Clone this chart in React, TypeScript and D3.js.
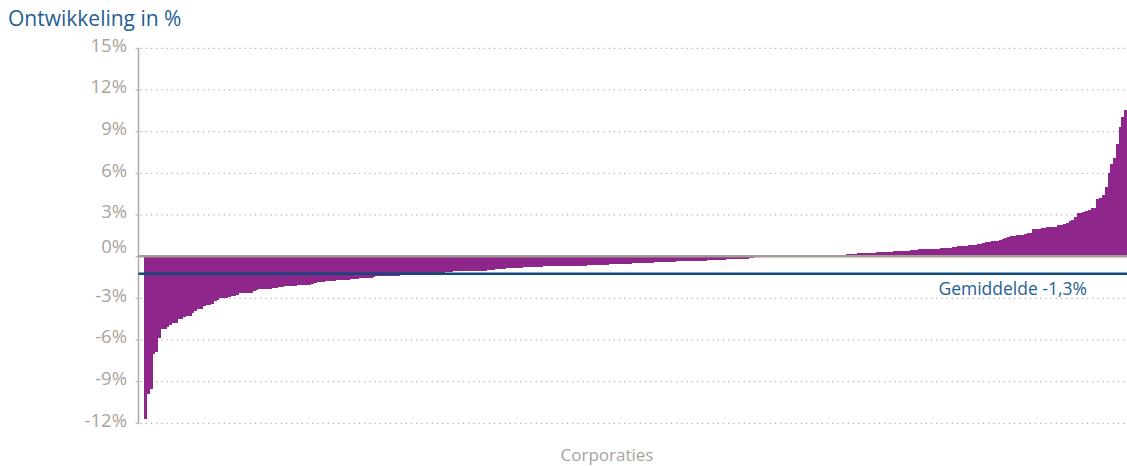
import React from "react";
import * as d3 from "d3";

const TITLE = "Ontwikkeling in %";
const X_LABEL = "Corporaties";
const MEAN_LABEL = "Gemiddelde -1,3%";
const MEAN_VALUE = -1.3;
const Y_TICKS = [15, 12, 9, 6, 3, 0, -3, -6, -9, -12];

// Change per corporation (%), sorted ascending
const negativeChanges = [
  -11.7, -9.9, -9.5, -7.0, -6.85, -5.85, -5.2, -5.2, -5.06, -4.9,
  -4.8, -4.75, -4.48, -4.48, -4.34, -4.24, -4.24, -4.06, -3.9, -3.76,
  -3.76, -3.55, -3.45, -3.45, -3.38, -3.23, -3.14, -3.0, -3.0, -3.0,
  -2.92, -2.83, -2.83, -2.73, -2.64, -2.64, -2.59, -2.59, -2.59, -2.49,
  -2.42, -2.35, -2.3, -2.3, -2.3, -2.3, -2.23, -2.23, -2.16, -2.16,
  -2.09, -2.09, -2.09, -2.09, -2.09, -2.01, -2.01, -2.01, -2.01, -2.01,
  -1.94, -1.87, -1.8, -1.8, -1.8, -1.73, -1.73, -1.73, -1.73, -1.65,
  -1.65, -1.65, -1.65, -1.65, -1.58, -1.58, -1.58, -1.51, -1.51, -1.51,
  -1.51, -1.51, -1.44, -1.37, -1.37, -1.37, -1.37, -1.37, -1.37, -1.37,
  -1.37, -1.37, -1.33, -1.32, -1.31, -1.3, -1.29, -1.28, -1.27, -1.26,
  -1.25, -1.24, -1.22, -1.21, -1.2, -1.18, -1.17, -1.15, -1.1, -1.1,
  -1.1, -1.03, -1.03, -1.03, -1.03, -1.03, -1.03, -1.03, -1.03, -1.03,
  -1.03, -1.03, -1.03, -0.96, -0.96, -0.96, -0.88, -0.88, -0.88, -0.88,
  -0.81, -0.81, -0.81, -0.81, -0.81, -0.81, -0.74, -0.74, -0.74, -0.74,
  -0.74, -0.74, -0.74, -0.67, -0.67, -0.67, -0.67, -0.67, -0.67, -0.67,
  -0.67, -0.67, -0.67, -0.67, -0.67, -0.67, -0.67, -0.67, -0.67, -0.6,
  -0.6, -0.6, -0.6, -0.6, -0.6, -0.6, -0.6, -0.53, -0.53, -0.53,
  -0.53, -0.53, -0.53, -0.53, -0.53, -0.45, -0.45, -0.45, -0.45, -0.45,
  -0.45, -0.45, -0.45, -0.38, -0.38, -0.38, -0.38, -0.38, -0.38, -0.38,
  -0.38, -0.31, -0.31, -0.31, -0.31, -0.31, -0.31, -0.31, -0.31, -0.31,
  -0.31, -0.31, -0.24, -0.24, -0.24, -0.24, -0.24, -0.24, -0.24, -0.17,
  -0.17, -0.17, -0.17, -0.17, -0.17, -0.17, -0.17, -0.1, -0.1,
];

const nearZeroChanges = [
  -0.06, -0.06, -0.05, 0, -0.05, -0.05, 0, -0.05, -0.04, 0,
  -0.04, -0.04, 0, -0.04, -0.03, 0, -0.03, -0.03, 0, -0.03,
  -0.02, 0, -0.02, -0.02, 0, -0.02, -0.01, 0, -0.01, 0, 0,
];

const positiveChanges = [
  0.12, 0.12, 0.19, 0.19, 0.19, 0.19, 0.27, 0.27, 0.27, 0.27,
  0.27, 0.27, 0.27, 0.34, 0.34, 0.34, 0.34, 0.34, 0.34, 0.41,
  0.41, 0.41, 0.41, 0.41, 0.41, 0.48, 0.48, 0.48, 0.55, 0.55,
  0.55, 0.55, 0.55, 0.55, 0.55, 0.55, 0.62, 0.62, 0.62, 0.62,
  0.7, 0.7, 0.77, 0.77, 0.77, 0.77, 0.84, 0.84, 0.84, 0.91,
  0.91, 0.98, 1.05, 1.05, 1.13, 1.13, 1.13, 1.2, 1.27, 1.34,
  1.41, 1.49, 1.49, 1.56, 1.56, 1.56, 1.63, 1.7, 1.7, 1.99,
  1.99, 1.99, 2.06, 2.06, 2.13, 2.13, 2.13, 2.13, 2.28, 2.28,
  2.35, 2.42, 2.56, 2.63, 2.85, 3.14, 3.14, 3.21, 3.29, 3.36,
  3.5, 3.5, 4.15, 4.22, 4.44, 5.01, 6.02, 6.67, 7.1, 8.11,
  9.33, 10.05, 10.55,
];

const changes = [...negativeChanges, ...nearZeroChanges, ...positiveChanges];

const W = 1127;
const H = 466;
const AXIS_X = 138.5;
const PLOT_LEFT = 144;
const PLOT_RIGHT = 1127;
const FONT = "'Open Sans', 'Noto Sans', sans-serif";

export default function App() {
  const x = d3
    .scaleBand<number>()
    .domain(d3.range(changes.length))
    .range([PLOT_LEFT, PLOT_RIGHT])
    .padding(0);
  const y = d3.scaleLinear().domain([-12, 15]).range([423.3, 48.3]);
  const fmt = (v: number) => `${v}%`;

  return (
    <svg
      width={W}
      height={H}
      style={{ position: "absolute", left: 0, top: 0, background: "#fff" }}
    >
      <text x={8} y={26} fill="#1f5f93" fontFamily={FONT} fontSize={21}>
        {TITLE}
      </text>

      {/* gridlines */}
      {Y_TICKS.filter((t) => t !== 0).map((t) => (
        <line
          key={t}
          x1={AXIS_X + 2}
          x2={W}
          y1={y(t)}
          y2={y(t)}
          stroke="#bdb4ac"
          strokeWidth={1.3}
          strokeDasharray="1.3,3.9"
        />
      ))}

      {/* bars */}
      {changes.map((v, i) => (
        <rect
          key={i}
          x={x(i)}
          width={x.bandwidth() + 0.3}
          y={v >= 0 ? y(v) : y(0)}
          height={Math.abs(y(v) - y(0))}
          fill="#8f268b"
          shapeRendering="crispEdges"
        />
      ))}

      {/* zero line */}
      <line
        x1={AXIS_X}
        x2={W}
        y1={y(0) - 0.5}
        y2={y(0) - 0.5}
        stroke="#a59c94"
        strokeWidth={2.5}
      />

      {/* y axis */}
      <line
        x1={AXIS_X}
        x2={AXIS_X}
        y1={y(15)}
        y2={y(-12) + 1}
        stroke="#b3aaa2"
        strokeWidth={1.5}
      />
      {Y_TICKS.map((t) => (
        <g key={t}>
          <line
            x1={AXIS_X - 3}
            x2={AXIS_X}
            y1={y(t)}
            y2={y(t)}
            stroke="#b3aaa2"
            strokeWidth={1}
          />
          <text
            x={127}
            y={y(t) + (t === 0 ? -9 : -1.5)}
            textAnchor="end"
            dominantBaseline="middle"
            fill="#aba39b"
            fontFamily={FONT}
            fontSize={18.5}
          >
            {fmt(t)}
          </text>
        </g>
      ))}

      {/* mean line */}
      <line
        x1={AXIS_X}
        x2={W}
        y1={y(MEAN_VALUE) - 1}
        y2={y(MEAN_VALUE) - 1}
        stroke="#0f4a7c"
        strokeWidth={2.5}
      />
      <text
        x={1087}
        y={y(MEAN_VALUE) + 20}
        textAnchor="end"
        fill="#1f5f93"
        fontFamily={FONT}
        fontSize={17.5}
      >
        {MEAN_LABEL}
      </text>

      <text
        x={607}
        y={461}
        textAnchor="middle"
        fill="#aba39b"
        fontFamily={FONT}
        fontSize={17}
      >
        {X_LABEL}
      </text>
    </svg>
  );
}
